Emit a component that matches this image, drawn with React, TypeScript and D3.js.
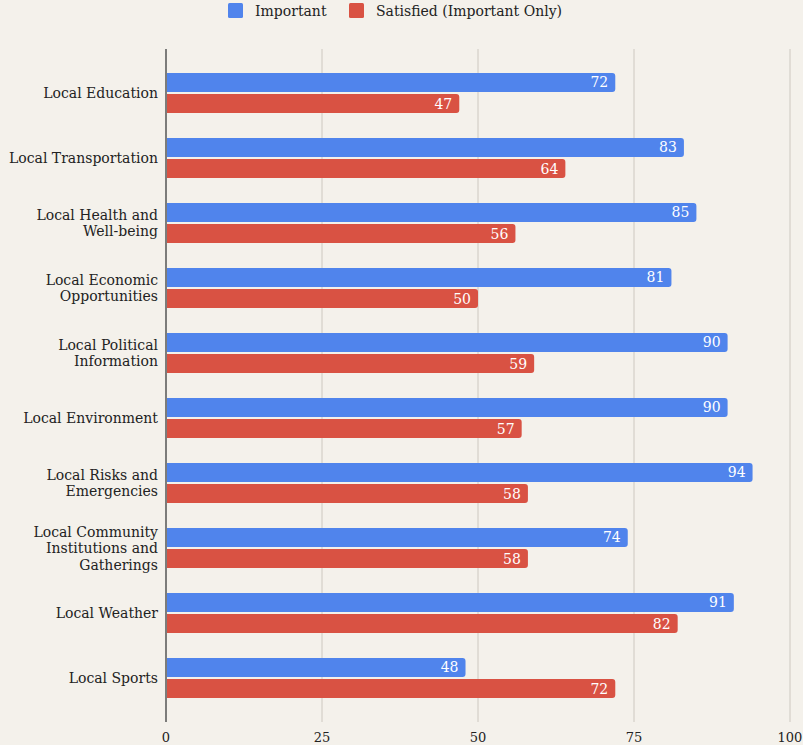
import { useRef, useEffect } from "react";
import * as d3 from "d3";

const categories = [
  ["Local Education"],
  ["Local Transportation"],
  ["Local Health and", "Well-being"],
  ["Local Economic", "Opportunities"],
  ["Local Political", "Information"],
  ["Local Environment"],
  ["Local Risks and", "Emergencies"],
  ["Local Community", "Institutions and", "Gatherings"],
  ["Local Weather"],
  ["Local Sports"],
];
const important = [72, 83, 85, 81, 90, 90, 94, 74, 91, 48];
const satisfied = [47, 64, 56, 50, 59, 57, 58, 58, 82, 72];
const seriesNames = ["Important", "Satisfied (Important Only)"];
const seriesColors = ["#5084ec", "#d95243"];
const xTicks = [0, 25, 50, 75, 100];

const W = 803;
const H = 745;
const FONT = "'DejaVu Serif', serif";

export default function App() {
  const svgRef = useRef<SVGSVGElement>(null);

  useEffect(() => {
    if (!svgRef.current) return;
    const svg = d3.select(svgRef.current);
    svg.selectAll("*").remove();

    svg.append("rect").attr("width", W).attr("height", H).attr("fill", "#f4f1eb");

    const keys = categories.map((c) => c.join(" "));
    const x = d3.scaleLinear().domain([0, 100]).range([166, 790]);
    const y = d3.scaleBand<string>().domain(keys).range([60.5, 710.5]);
    const ySub = d3
      .scaleBand<number>()
      .domain([0, 1])
      .range([12.5, 52.5])
      .paddingInner(0.1);

    // gridlines
    svg
      .append("g")
      .selectAll("line")
      .data(xTicks)
      .join("line")
      .attr("x1", (d) => x(d))
      .attr("x2", (d) => x(d))
      .attr("y1", 49)
      .attr("y2", 722)
      .attr("stroke", (d) => (d === 0 ? "#555" : "#cdc8c0"))
      .attr("stroke-width", (d) => (d === 0 ? 1.5 : 1));

    // tick labels
    svg
      .append("g")
      .selectAll("text")
      .data(xTicks)
      .join("text")
      .attr("x", (d) => x(d))
      .attr("y", 742)
      .attr("text-anchor", "middle")
      .attr("font-family", FONT)
      .attr("font-size", 13)
      .attr("fill", "#222")
      .text((d) => d);

    const rows = keys.map((k, i) => ({ k, lines: categories[i], vals: [important[i], satisfied[i]] }));

    const g = svg
      .append("g")
      .selectAll("g")
      .data(rows)
      .join("g")
      .attr("transform", (d) => `translate(0,${y(d.k)})`);

    // category labels
    g.append("text")
      .attr("text-anchor", "end")
      .attr("font-family", FONT)
      .attr("font-size", 14)
      .attr("fill", "#222")
      .each(function (d) {
        const n = d.lines.length;
        const mid = y.bandwidth() / 2;
        d3.select(this)
          .selectAll("tspan")
          .data(d.lines)
          .join("tspan")
          .attr("x", 158)
          .attr("y", (_, j) => mid + 5 + (j - (n - 1) / 2) * 16.5)
          .text((t) => t);
      });

    const bars = g
      .selectAll("g.bar")
      .data((d) => d.vals.map((v, j) => ({ v, j })))
      .join("g")
      .attr("class", "bar");

    bars
      .append("path")
      .attr("fill", (d) => seriesColors[d.j])
      .attr("d", (d) => {
        const x0 = x(0) + 1;
        const x1 = x(d.v);
        const y0 = ySub(d.j)!;
        const h = ySub.bandwidth();
        const r = 3;
        return `M${x0},${y0}H${x1 - r}Q${x1},${y0} ${x1},${y0 + r}V${y0 + h - r}Q${x1},${y0 + h} ${x1 - r},${y0 + h}H${x0}Z`;
      });

    bars
      .append("text")
      .attr("x", (d) => x(d.v) - 7)
      .attr("y", (d) => ySub(d.j)! + ySub.bandwidth() / 2 + 5)
      .attr("text-anchor", "end")
      .attr("font-family", FONT)
      .attr("font-size", 14)
      .attr("fill", "#fff")
      .text((d) => d.v);

    // legend
    const legendX = [228, 349];
    const lg = svg
      .append("g")
      .selectAll("g")
      .data(seriesNames)
      .join("g")
      .attr("transform", (_, i) => `translate(${legendX[i]},3)`);
    lg.append("rect")
      .attr("width", 15)
      .attr("height", 15)
      .attr("rx", 1.5)
      .attr("fill", (_, i) => seriesColors[i]);
    lg.append("text")
      .attr("x", 27)
      .attr("y", 13)
      .attr("font-family", FONT)
      .attr("font-size", 14)
      .attr("fill", "#222")
      .text((d) => d);
  }, []);

  return (
    <svg
      ref={svgRef}
      width={W}
      height={H}
      style={{ position: "absolute", left: 0, top: 0, display: "block" }}
    />
  );
}
